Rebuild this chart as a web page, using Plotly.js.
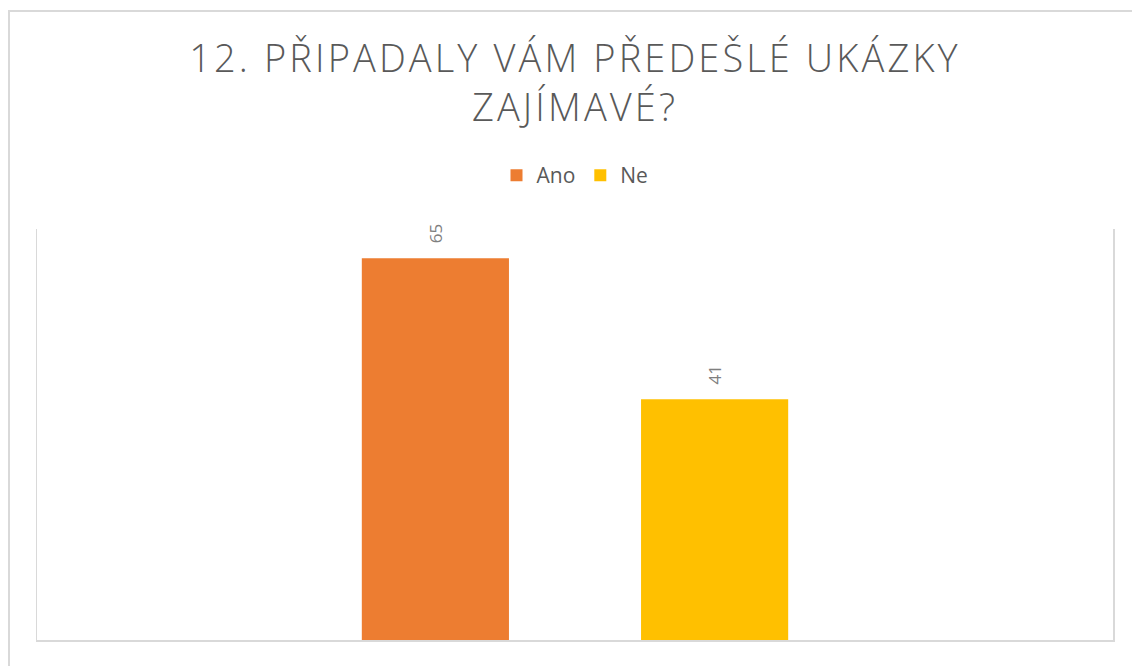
<!DOCTYPE html>
<html>
<head>
<meta charset="utf-8">
<script src="https://cdn.plot.ly/plotly-3.0.1.min.js"></script>
<style>
  html, body { margin: 0; padding: 0; background: #ffffff; overflow: hidden; }
  #frame { position: absolute; left: 8px; top: 10px; width: 1200px; height: 700px;
           border-left: 2px solid #d9d9d9; border-top: 2px solid #d9d9d9; box-sizing: border-box; }
  #chart { position: absolute; left: 0; top: 0; width: 1132px; height: 666px; }
  .gtitle { letter-spacing: 3.1px; }
</style>
</head>
<body>
<div id="frame"></div>
<div id="chart"></div>
<script>
const titleText = '12. PŘIPADALY VÁM PŘEDEŠLÉ UKÁZKY<br>ZAJÍMAVÉ?';
const categories = ['12'];
const seriesNames = ['Ano', 'Ne'];
const seriesValues = [[65], [41]];
const seriesColors = ['#ed7d31', '#ffc000'];

const bargap = 0.481;
const bargroupgap = 0.473;

const traces = seriesNames.map((name, i) => ({
  type: 'bar',
  name: name,
  x: categories,
  y: seriesValues[i],
  marker: { color: seriesColors[i] },
  hoverinfo: 'skip'
}));

// data labels placed on each bar via the axes (category index + group offset)
const nSeries = seriesNames.length;
const slot = (1 - bargap) / nSeries;
const annotations = [];
seriesNames.forEach((name, i) => {
  seriesValues[i].forEach((v, ci) => {
    annotations.push({
      xref: 'x', yref: 'y',
      x: ci + (i - (nSeries - 1) / 2) * slot,
      y: v,
      text: String(v),
      showarrow: false,
      textangle: -90,
      yanchor: 'bottom',
      xanchor: 'center',
      yshift: 13,
      font: { family: 'Open Sans, sans-serif', size: 17, color: '#7f7f7f' }
    });
  });
});

const layout = {
  width: 1132,
  height: 666,
  margin: { l: 37, r: 19, t: 229, b: 26 },
  paper_bgcolor: 'rgba(0,0,0,0)',
  plot_bgcolor: 'rgba(0,0,0,0)',
  font: { family: 'Open Sans, sans-serif', color: '#595959' },
  title: {
    text: titleText,
    font: { family: 'Open Sans, sans-serif', size: 38, color: '#595959', weight: 300 },
    xref: 'paper', x: 0.5, xanchor: 'center',
    yref: 'container', y: 0.8925, yanchor: 'top'
  },
  showlegend: true,
  legend: {
    orientation: 'h',
    x: 0.5, xanchor: 'center',
    y: 1.13, yanchor: 'middle',
    font: { family: 'Open Sans, sans-serif', size: 21, color: '#595959' },
    itemwidth: 30,
    itemclick: false, itemdoubleclick: false
  },
  barmode: 'group',
  bargap: bargap,
  bargroupgap: bargroupgap,
  annotations: annotations,
  xaxis: {
    type: 'category',
    range: [-0.5, categories.length - 0.5],
    showline: true, linecolor: '#d9d9d9', linewidth: 2,
    showticklabels: false, ticks: '', showgrid: false, zeroline: false,
    fixedrange: true
  },
  yaxis: {
    range: [0, 70],
    showline: true, mirror: true, linecolor: '#d9d9d9', linewidth: 1.5,
    showticklabels: false, ticks: '', showgrid: false, zeroline: false,
    fixedrange: true
  }
};

Plotly.newPlot('chart', traces, layout, { displayModeBar: false, staticPlot: true });
</script>
</body>
</html>
